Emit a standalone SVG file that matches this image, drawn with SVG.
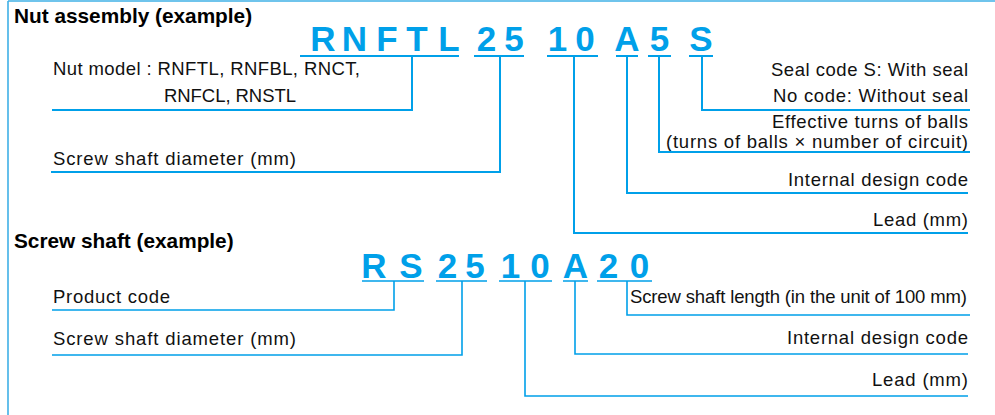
<svg xmlns="http://www.w3.org/2000/svg" width="995" height="415" viewBox="0 0 995 415">
<style>
.frame{stroke:#3fb0e6;stroke-width:1.6;fill:none}
.ln{stroke:#00a0e9;stroke-width:2;fill:none}
.lt{stroke:#00a0e9;stroke-width:1.6;fill:none}
.title{font-family:"Liberation Sans",Arial,sans-serif;font-weight:bold;font-size:20.8px;fill:#000}
.lbl{font-family:"Liberation Sans",Arial,sans-serif;font-size:18.5px;fill:#111}
.code{font-family:"Liberation Sans",Arial,sans-serif;font-weight:bold;font-size:35px;fill:#00a0e9;text-anchor:middle}
</style>
<rect width="995" height="415" fill="#fff"/>
<g id="frame">
<line class="frame" x1="8" y1="1" x2="995" y2="1"/>
<line class="frame" x1="8" y1="1" x2="8" y2="415"/>
</g>
<g id="nut-title"><text class="title" x="14" y="23">Nut assembly (example)</text></g>
<g id="nut-code">
<text class="code" x="323 354.5 387 417 449 486.5 514 557.5 585 627 659.5 701" y="51">RNFTL2510A5S</text>
</g>
<g id="nut-labels">
<text class="lbl" x="53" y="75" textLength="307" lengthAdjust="spacing">Nut model : RNFTL, RNFBL, RNCT,</text>
<text class="lbl" x="164" y="102" textLength="132" lengthAdjust="spacing">RNFCL, RNSTL</text>
<text class="lbl" x="53" y="165" textLength="243" lengthAdjust="spacing">Screw shaft diameter (mm)</text>
<text class="lbl" x="771" y="76" textLength="197" lengthAdjust="spacing">Seal code S: With seal</text>
<text class="lbl" x="773" y="102" textLength="195" lengthAdjust="spacing">No code: Without seal</text>
<text class="lbl" x="772" y="128" textLength="196" lengthAdjust="spacing">Effective turns of balls</text>
<text class="lbl" x="666" y="148" textLength="302" lengthAdjust="spacing">(turns of balls × number of circuit)</text>
<text class="lbl" x="788" y="186" textLength="180" lengthAdjust="spacing">Internal design code</text>
<text class="lbl" x="873" y="226" textLength="95" lengthAdjust="spacing">Lead (mm)</text>
</g>
<g id="shaft-title"><text class="title" x="14" y="248">Screw shaft (example)</text></g>
<g id="shaft-code">
<text class="code" x="374 411 447.5 475 510.5 540 575.5 608.5 639.5" y="278">RS2510A20</text>
</g>
<g id="shaft-labels">
<text class="lbl" x="53" y="303" textLength="117" lengthAdjust="spacing">Product code</text>
<text class="lbl" x="53" y="345" textLength="243" lengthAdjust="spacing">Screw shaft diameter (mm)</text>
<text class="lbl" x="630" y="303" textLength="337" lengthAdjust="spacing">Screw shaft length (in the unit of 100 mm)</text>
<text class="lbl" x="787" y="344" textLength="181" lengthAdjust="spacing">Internal design code</text>
<text class="lbl" x="872" y="386" textLength="96" lengthAdjust="spacing">Lead (mm)</text>
</g>
<g id="connectors">
<path class="ln" d="M300 56H459M474 56H524M547 56H598M616 56H638M648 56H671M689 56H713"/>
<path class="ln" d="M412 56V110H52"/>
<path class="ln" d="M500 56V172H51"/>
<path class="ln" d="M574 56V233H968"/>
<path class="ln" d="M627 56V193H968"/>
<path class="ln" d="M659 56V152H970"/>
<path class="ln" d="M702 56V110H970"/>
<path class="lt" d="M362 281H424M436 281H487M499 281H552M563 281H588M597 281H652"/>
<path class="lt" d="M394 281V310H52"/>
<path class="lt" d="M462 281V355H52"/>
<path class="lt" d="M525 281V396H968"/>
<path class="lt" d="M575 281V354H968"/>
<path class="lt" d="M627 281V315H970"/>
</g>
</svg>
